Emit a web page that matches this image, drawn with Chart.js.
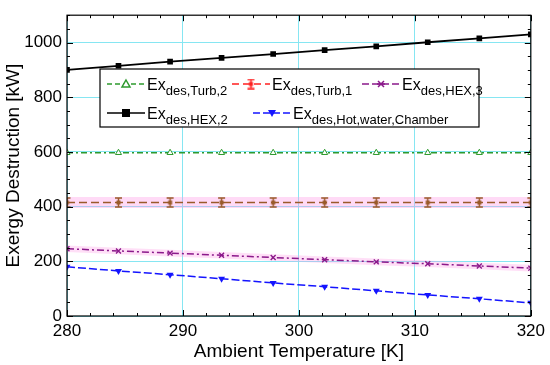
<!DOCTYPE html>
<html>
<head>
<meta charset="utf-8">
<script src="https://cdn.jsdelivr.net/npm/chart.js@4/dist/chart.umd.min.js"></script>
<style>
  body { margin: 0; background: #fff; }
  #wrap { width: 550px; height: 365px; }
</style>
</head>
<body>
<div id="wrap"><canvas id="myChart"></canvas></div>
<script>
// Data
var temps = [280, 284.44, 288.89, 293.33, 297.78, 302.22, 306.67, 311.11, 315.56, 320];
var hex2 = [900, 915, 930, 944, 958, 972, 986, 1001, 1015, 1030];
var turb2 = [597, 597, 597, 597, 597, 597, 597, 597, 597, 597];
var turb1 = [415, 415, 415, 415, 415, 415, 415, 415, 415, 415];
var hex3 = [246, 238, 230, 222, 214, 206, 198, 191, 183, 175];
var hotWater = [180, 165, 151, 136, 121, 107, 92, 77, 63, 48];
var xTicks = [280, 290, 300, 310, 320];
var yTicks = [0, 200, 400, 600, 800, 1000];
// shaded bands (half width, kW)
var turb1Band = 20;
var hex3Band = 12;

var FONT = "'Liberation Sans', Arial, sans-serif";

function pts(ys) {
    return temps.map(function(t, i) { return { x: t, y: ys[i] }; });
}

// error bar marker for Turb,1
function errorBarStyle(color) {
    var c = document.createElement('canvas');
    c.width = 9; c.height = 11;
    var g = c.getContext('2d');
    g.strokeStyle = color; g.lineWidth = 1.5;
    g.beginPath();
    g.moveTo(4.5, 1); g.lineTo(4.5, 10);
    g.moveTo(1, 1); g.lineTo(8, 1);
    g.moveTo(1, 10); g.lineTo(8, 10);
    g.stroke();
    g.fillStyle = color;
    g.fillRect(2.5, 3.5, 4, 4);
    return c;
}

var turb1Color = '#9a5a2a';
var turb1Marker = errorBarStyle(turb1Color);

// inward ticks on all four sides, plus frame
var framePlugin = {
    id: 'frame',
    afterDatasetsDraw: function(chart) {
        var ctx = chart.ctx, a = chart.chartArea;
        var xs = chart.scales.x, ys = chart.scales.y;
        ctx.save();
        ctx.strokeStyle = '#000';
        ctx.lineWidth = 1;
        ctx.beginPath();
        for (var v = 280; v <= 320; v += 2) {
            var px = Math.round(xs.getPixelForValue(v)) + 0.5;
            var len = (v % 10 === 0) ? 6 : 3;
            ctx.moveTo(px, a.bottom); ctx.lineTo(px, a.bottom - len);
            ctx.moveTo(px, a.top); ctx.lineTo(px, a.top + len);
        }
        for (var w = 0; w <= 1100; w += 50) {
            var py = Math.round(ys.getPixelForValue(w)) + 0.5;
            var l2 = (w % 200 === 0) ? 6 : 3;
            ctx.moveTo(a.left, py); ctx.lineTo(a.left + l2, py);
            ctx.moveTo(a.right, py); ctx.lineTo(a.right - l2, py);
        }
        ctx.stroke();
        ctx.lineWidth = 1.2;
        ctx.strokeRect(a.left, a.top, a.right - a.left, a.bottom - a.top);
        ctx.restore();
    }
};

// boxed legend with subscripts
var legendItems = [
    { sub: 'des,Turb,2', color: '#2e9a2e', dash: [5, 3], marker: 'tri', x: 107, row: 0 },
    { sub: 'des,Turb,1', color: '#ff2020', dash: [7, 4], marker: 'err', x: 232, row: 0 },
    { sub: 'des,HEX,3', color: '#8b1a8b', dash: [7, 3], marker: 'cross', x: 362, row: 0 },
    { sub: 'des,HEX,2', color: '#000000', dash: [], marker: 'square', x: 107, row: 1 },
    { sub: 'des,Hot,water,Chamber', color: '#1414ff', dash: [7, 3], marker: 'dtri', x: 253, row: 1 }
];

var legendPlugin = {
    id: 'boxLegend',
    afterDraw: function(chart) {
        var ctx = chart.ctx;
        var bx = 100, by = 69, bw = 379, bh = 58;
        ctx.save();
        ctx.fillStyle = '#fff';
        ctx.fillRect(bx, by, bw, bh);
        ctx.strokeStyle = '#000'; ctx.lineWidth = 1.2;
        ctx.strokeRect(bx, by, bw, bh);
        legendItems.forEach(function(it) {
            var y = it.row === 0 ? 84 : 113;
            var x0 = it.x, x1 = it.x + 38, mx = (x0 + x1) / 2;
            ctx.strokeStyle = it.color; ctx.fillStyle = it.color;
            ctx.lineWidth = 1.5;
            ctx.setLineDash(it.dash);
            ctx.beginPath(); ctx.moveTo(x0, y); ctx.lineTo(x1, y); ctx.stroke();
            ctx.setLineDash([]);
            ctx.beginPath();
            if (it.marker === 'tri') {
                ctx.fillStyle = '#fff';
                ctx.moveTo(mx, y - 4); ctx.lineTo(mx + 4, y + 3); ctx.lineTo(mx - 4, y + 3); ctx.closePath();
                ctx.fill(); ctx.stroke();
            } else if (it.marker === 'dtri') {
                ctx.moveTo(mx, y + 4); ctx.lineTo(mx + 4, y - 3); ctx.lineTo(mx - 4, y - 3); ctx.closePath();
                ctx.fill();
            } else if (it.marker === 'square') {
                ctx.fillRect(mx - 4, y - 4, 8, 8);
            } else if (it.marker === 'cross') {
                ctx.moveTo(mx - 3, y - 3); ctx.lineTo(mx + 3, y + 3);
                ctx.moveTo(mx + 3, y - 3); ctx.lineTo(mx - 3, y + 3);
                ctx.moveTo(mx - 4, y); ctx.lineTo(mx + 4, y);
                ctx.stroke();
            } else if (it.marker === 'err') {
                ctx.drawImage(errorBarStyle(it.color), mx - 4.5, y - 5.5);
            }
            ctx.fillStyle = '#000';
            ctx.textBaseline = 'alphabetic';
            ctx.textAlign = 'left';
            ctx.font = '16px ' + FONT;
            ctx.fillText('Ex', x1 + 2, y + 6);
            var ew = ctx.measureText('Ex').width;
            ctx.font = '13px ' + FONT;
            ctx.fillText(it.sub, x1 + 2 + ew, y + 11);
        });
        ctx.restore();
    }
};

window.addEventListener('load', function() {
    var ctx = document.getElementById('myChart').getContext('2d');
    var myChart = new Chart(ctx, {
        type: 'line',
        data: {
            datasets: [
                {
                    label: 'Ex des,HEX,2', data: pts(hex2),
                    borderColor: '#000', backgroundColor: '#000', borderWidth: 1.8,
                    pointStyle: 'rect', pointRadius: 4, pointBorderWidth: 0, order: 1
                },
                {
                    label: 'Ex des,Turb,2', data: pts(turb2),
                    borderColor: '#2e9a2e', backgroundColor: '#fff', borderWidth: 1.5,
                    borderDash: [6, 3, 2, 3],
                    pointStyle: 'triangle', pointRadius: 3.5, pointBorderWidth: 1, order: 2
                },
                {
                    label: 'Ex des,Turb,1', data: pts(turb1),
                    borderColor: turb1Color, backgroundColor: turb1Color, borderWidth: 1.5,
                    borderDash: [8, 4],
                    pointStyle: turb1Marker, order: 3
                },
                {
                    label: 'Ex des,HEX,3', data: pts(hex3),
                    borderColor: '#8b1a8b', backgroundColor: '#8b1a8b', borderWidth: 1.5,
                    borderDash: [7, 3, 2, 3],
                    pointStyle: 'crossRot', pointRadius: 3.5, pointBorderWidth: 1.4, order: 4
                },
                {
                    label: 'Ex des,Hot,water,Chamber', data: pts(hotWater),
                    borderColor: '#1414ff', backgroundColor: '#1414ff', borderWidth: 1.5,
                    borderDash: [8, 3],
                    pointStyle: 'triangle', rotation: 180, pointRadius: 4, pointBorderWidth: 0, order: 5
                },
                // shaded bands
                {
                    label: 'band1hi', data: pts(turb1.map(function(v) { return v + turb1Band; })),
                    borderWidth: 0, pointRadius: 0, fill: '+1',
                    backgroundColor: 'rgba(255,150,230,0.35)', order: 10
                },
                {
                    label: 'band1lo', data: pts(turb1.map(function(v) { return v - turb1Band; })),
                    borderWidth: 0, pointRadius: 0, order: 10
                },
                {
                    label: 'band2hi', data: pts(hex3.map(function(v) { return v + hex3Band; })),
                    borderWidth: 0, pointRadius: 0, fill: '+1',
                    backgroundColor: 'rgba(255,150,230,0.3)', order: 10
                },
                {
                    label: 'band2lo', data: pts(hex3.map(function(v) { return v - hex3Band; })),
                    borderWidth: 0, pointRadius: 0, order: 10
                }
            ]
        },
        options: {
            responsive: true,
            maintainAspectRatio: false,
            animation: false,
            layout: { padding: { top: 6, right: 17, left: 2, bottom: 2 } },
            plugins: { legend: { display: false }, tooltip: { enabled: false } },
            scales: {
                x: {
                    type: 'linear', min: 280, max: 320,
                    afterBuildTicks: function(s) { s.ticks = xTicks.map(function(v) { return { value: v }; }); },
                    afterFit: function(s) { s.height = 47; },
                    ticks: {
                        color: '#000', font: { family: FONT, size: 17 }, padding: 5, maxRotation: 0,
                        callback: function(v) { return String(v); }
                    },
                    grid: { drawTicks: false, color: '#86e6f2', lineWidth: 1 },
                    border: { display: false },
                    title: { display: true, text: 'Ambient Temperature [K]', color: '#000', font: { family: FONT, size: 19 }, padding: 0 }
                },
                y: {
                    min: 0, max: 1100,
                    afterBuildTicks: function(s) { s.ticks = yTicks.map(function(v) { return { value: v }; }); },
                    afterFit: function(s) { s.width = 65; },
                    ticks: {
                        color: '#000', font: { family: FONT, size: 17 }, padding: 5,
                        callback: function(v) { return String(v); }
                    },
                    grid: { drawTicks: false, color: '#86e6f2', lineWidth: 1 },
                    border: { display: false },
                    title: { display: true, text: 'Exergy Destruction [kW]', color: '#000', font: { family: FONT, size: 19 }, padding: 0 }
                }
            }
        },
        plugins: [framePlugin, legendPlugin]
    });
});
</script>
</body>
</html>
